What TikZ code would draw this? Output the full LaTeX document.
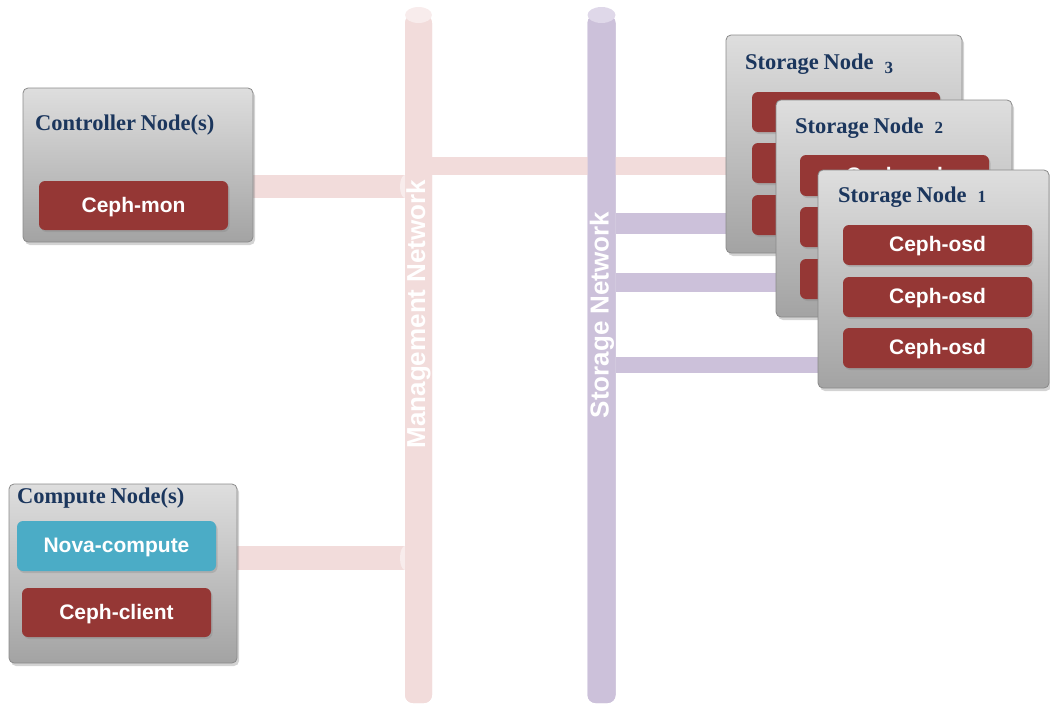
\documentclass[tikz,border=0pt]{standalone}
\usepackage{fontspec}
\newfontfamily\lsans{Liberation Sans}
\newfontfamily\lserif{Liberation Serif}
\usetikzlibrary{shadows,calc}
\definecolor{mpink}{HTML}{F2DCDB}
\definecolor{mpinklt}{HTML}{F8ECEC}
\definecolor{spurp}{HTML}{CCC1DA}
\definecolor{spurplt}{HTML}{DFD8E9}
\definecolor{cephred}{HTML}{953735}
\definecolor{novablue}{HTML}{4BACC6}
\definecolor{titleblue}{HTML}{1B365D}
\definecolor{boxtop}{HTML}{DEDEDE}
\definecolor{boxbot}{HTML}{A3A3A3}
\definecolor{boxline}{HTML}{8A8A8A}
% old-style looking figures
\newcommand\osdigit[2][0pt]{\hspace{11pt}\raisebox{#1}{\fontsize{17}{18}\selectfont #2}}
\begin{document}
\begin{tikzpicture}[x=1pt,y=-1pt,
  hostbox/.style={draw=boxline, line width=0.8pt, rounded corners=5pt,
    top color=boxtop, bottom color=boxbot, inner sep=0pt, outer sep=0pt,
    anchor=north west,
    drop shadow={opacity=0.35, shadow xshift=2pt, shadow yshift=-3pt}},
  svc/.style={fill=cephred, rounded corners=6pt, inner sep=0pt, outer sep=0pt,
    anchor=north west, text=white, font={\lsans\bfseries\fontsize{21}{25}\selectfont},
    text height=15pt, text depth=1.5pt,
    drop shadow={opacity=0.3, shadow xshift=1.5pt, shadow yshift=-2pt}},
  hosttitle/.style={anchor=base west, inner sep=0pt, text=titleblue,
    font={\lserif\bfseries\fontsize{22.5}{26}\selectfont}},
  netlabel/.style={rotate=90, text=white, inner sep=0pt,
    font={\lsans\bfseries\fontsize{26}{30}\selectfont}},
  mbarsty/.style={fill=mpink, rounded corners=8pt, minimum width=27pt,
    minimum height=688pt, inner sep=0pt, outer sep=0pt, anchor=north},
  sbarsty/.style={fill=spurp, rounded corners=8pt, minimum width=28pt,
    minimum height=688pt, inner sep=0pt, outer sep=0pt, anchor=north},
  mlink/.style={draw=mpink},
  slink/.style={draw=spurp}
]
\useasboundingbox (0,0) rectangle (1050,704);

% heights of the links
\coordinate (cy1) at (0,186.5);
\coordinate (cy2) at (0,558);
\coordinate (cy3) at (0,166);
\coordinate (cy4) at (0,223.5);
\coordinate (cy5) at (0,282.5);
\coordinate (cy6) at (0,365);

% network bars (named, for anchors)
\node[mbarsty] (mgmt) at (418.5,15) {};
\node[sbarsty] (stor) at (601.5,15) {};

\path (253,242) coordinate (ctrlse);
\path (237,663) coordinate (compse);

% links (behind bars and hosts)
\draw[mlink, line width=23pt] (ctrlse |- cy1) -- (mgmt.west |- cy1);
\draw[mlink, line width=24pt] (compse |- cy2) -- (mgmt.west |- cy2);
\draw[mlink, line width=18pt] (mgmt.east |- cy3) -- (740,166) coordinate (m3end);
\draw[slink, line width=21pt] (stor.east |- cy4) -- (740,223.5) coordinate (s3end);
\draw[slink, line width=19pt] (stor.east |- cy5) -- (790,282.5) coordinate (s2end);
\draw[slink, line width=16pt] (stor.east |- cy6) -- (830,365) coordinate (s1end);
% pipe-end caps
\fill[mpinklt] (mgmt.west |- cy1) ellipse [x radius=5, y radius=11.5];
\fill[mpinklt] (mgmt.west |- cy2) ellipse [x radius=5, y radius=12];

% bars drawn over links
\node[mbarsty] at (418.5,15) {};
\node[sbarsty] at (601.5,15) {};
\fill[mpinklt] (mgmt.north) ellipse [x radius=13.5, y radius=8];
\fill[spurplt] (stor.north) ellipse [x radius=14, y radius=8];
\node[netlabel] (mlab) at (418.5,314) {Management Network};
\node[netlabel] (slab) at (602,315) {Storage Network};

% controller node
\node[hostbox, minimum width=230pt, minimum height=154pt] (ctrl) at (23,88) {};
\node[hosttitle] (ctrlt) at (35,130) {Controller\kern-1pt\ Node(s)};
\node[svc, minimum width=189pt, minimum height=49pt] (mon) at (39,181) {Ceph-mon};

% compute node
\node[hostbox, minimum width=228pt, minimum height=179pt] (comp) at (9,484) {};
\node[hosttitle] (compt) at (17,503) {Compute\kern-1pt\ Node(s)};
\node[svc, fill=novablue, minimum width=199pt, minimum height=50pt] (nova) at (17,521) {Nova-compute};
\node[svc, minimum width=189pt, minimum height=49pt] (client) at (22,588) {Ceph-client};

% storage node 3
\node[hostbox, minimum width=236pt, minimum height=218pt] (st3) at (726,35) {};
\node[hosttitle] (st3t) at (745,69) {Storage\kern-1pt\ Node\osdigit[-4pt]{3}};
\node[svc, minimum width=188pt, minimum height=40pt] (o31) at (752,92) {};
\node[svc, minimum width=188pt, minimum height=40pt] (o32) at (752,143) {};
\node[svc, minimum width=188pt, minimum height=40pt] (o33) at (752,195) {};

% storage node 2
\node[hostbox, minimum width=236pt, minimum height=217pt] (st2) at (776,100) {};
\node[hosttitle] (st2t) at (795,133) {Storage\kern-1pt\ Node\osdigit{2}};
\node[svc, minimum width=189pt, minimum height=41pt] (o21) at (800,155) {Ceph-osd};
\node[svc, minimum width=189pt, minimum height=40pt] (o22) at (800,207) {};
\node[svc, minimum width=189pt, minimum height=40pt] (o23) at (800,259) {};

% storage node 1
\node[hostbox, minimum width=231pt, minimum height=218pt] (st1) at (818,170) {};
\node[hosttitle] (st1t) at (838,202) {Storage\kern-1pt\ Node\osdigit{1}};
\node[svc, minimum width=189pt, minimum height=40pt] (o11) at (843,225) {Ceph-osd};
\node[svc, minimum width=189pt, minimum height=40pt] (o12) at (843,277) {Ceph-osd};
\node[svc, minimum width=189pt, minimum height=40pt] (o13) at (843,328) {Ceph-osd};
\end{tikzpicture}
\end{document}
